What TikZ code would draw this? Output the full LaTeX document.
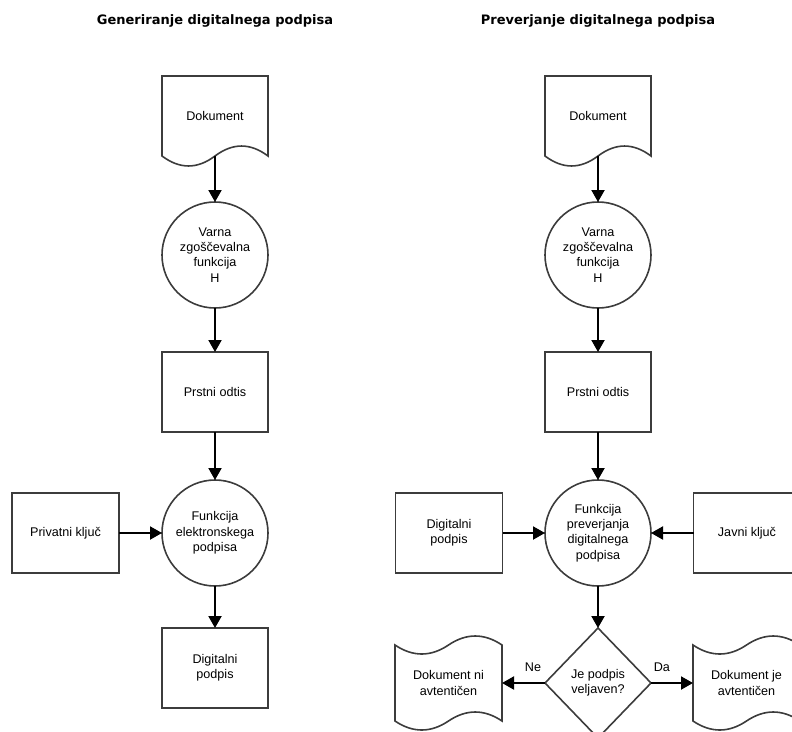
\documentclass[tikz,border=0pt]{standalone}
\usepackage{fontspec}
\setmainfont{Liberation Sans}
\newfontfamily\titlefont{DejaVu Sans}
\usetikzlibrary{arrows.meta,shapes.geometric}

\definecolor{shapegray}{RGB}{60,60,60}

\tikzset{
  heading/.style={font=\titlefont\bfseries\fontsize{13}{15}\selectfont, inner sep=0},
  txt/.style={font=\fontsize{12.6}{15.3}\selectfont, align=center, inner sep=0, outer sep=0},
  box/.style={txt, rectangle, draw=shapegray, line width=1.6pt, minimum width=106pt, minimum height=80pt},
  hashfn/.style={txt, circle, draw=shapegray, line width=1.6pt, minimum size=106pt},
  signfn/.style={txt, circle, draw=shapegray, line width=1.6pt, minimum size=106pt},
  docnode/.style={txt, rectangle, minimum width=106pt, minimum height=80pt},
  tapenode/.style={txt, rectangle, minimum width=107pt, minimum height=76pt},
  check/.style={txt, diamond, draw=shapegray, line width=1.6pt, minimum width=106pt, minimum height=110pt},
  outline/.style={draw=shapegray, line width=1.6pt},
  flow/.style={draw=black, line width=2pt, -{Triangle[length=12pt,width=13pt]}},
  edgelabel/.style={font=\fontsize{12.6}{15}\selectfont, inner sep=0, anchor=south, yshift=10pt}
}

\newcommand{\docoutline}[1]{%
  \begin{scope}[shift={(#1.north west)}]
    \draw[outline] (0,0) -- (106,0) -- (106,80)
      .. controls (88.3,66.7) and (70.7,66.7) .. (53,80)
      .. controls (35.3,93.3) and (17.7,93.3) .. (0,80) -- cycle;
  \end{scope}}
\newcommand{\tapeoutline}[1]{%
  \begin{scope}[shift={(#1.north west)}]
    \draw[outline] (0,0)
      .. controls (17.8,12) and (35.7,12) .. (53.5,0)
      .. controls (71.3,-12) and (89.2,-12) .. (107,0) -- (107,76)
      .. controls (89.2,64) and (71.3,64) .. (53.5,76)
      .. controls (35.7,88) and (17.8,88) .. (0,76) -- cycle;
  \end{scope}}

\begin{document}
\begin{tikzpicture}[x=1pt, y=-1pt]
  \clip (0,0) rectangle (792,731);

  \node[heading] (gentitle) at (215,21) {Generiranje digitalnega podpisa};
  \node[heading] (vertitle) at (598,21) {Preverjanje digitalnega podpisa};

  % generiranje
  \node[docnode] (doc) at (215,116) {Dokument};
  \node[hashfn] (hash) at (215,255) {Varna\\zgoščevalna\\funkcija\\H};
  \node[box] (print) at (215,392) {Prstni odtis};
  \node[signfn] (sign) at (215,533) {Funkcija\\elektronskega\\podpisa};
  \node[box, minimum width=107pt] (privkey) at (65.5,533) {Privatni ključ};
  \node[box] (sig) at (215,668) {Digitalni\\podpis};
  \docoutline{doc}

  % preverjanje
  \node[docnode] (vdoc) at (598,116) {Dokument};
  \node[hashfn] (vhash) at (598,255) {Varna\\zgoščevalna\\funkcija\\H};
  \node[box] (vprint) at (598,392) {Prstni odtis};
  \node[signfn] (verify) at (598,533) {Funkcija\\preverjanja\\digitalnega\\podpisa};
  \node[box, minimum width=107pt] (vsig) at (449,533) {Digitalni\\podpis};
  \node[box, minimum width=107pt] (pubkey) at (747,533) {Javni ključ};
  \node[check] (valid) at (598,683) {Je podpis\\veljaven?};
  \node[tapenode] (bad) at (448.5,683) {Dokument ni\\avtentičen};
  \node[tapenode] (good) at (746.5,683) {Dokument je\\avtentičen};
  \docoutline{vdoc}
  \tapeoutline{bad}
  \tapeoutline{good}

  \foreach \a/\b in {doc/hash,hash/print,print/sign,sign/sig,vdoc/vhash,vhash/vprint,vprint/verify,verify/valid}
  {
  \draw[flow] (\a.south) -- (\b.north);
  }
  \draw[flow] (privkey.east) -- (sign.west);
  \draw[flow] (vsig.east) -- (verify.west);
  \draw[flow] (pubkey.west) -- (verify.east);
  \draw[flow] (valid.west) -- node[edgelabel, pos=0.28] {Ne} (bad.east);
  \draw[flow] (valid.east) -- node[edgelabel, pos=0.26] {Da} (good.west);
\end{tikzpicture}
\end{document}
